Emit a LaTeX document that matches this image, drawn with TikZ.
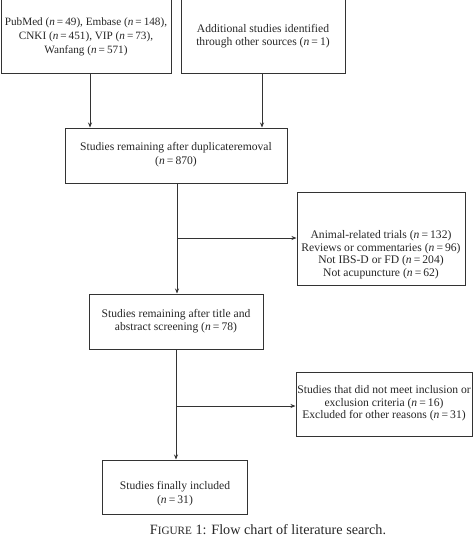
\documentclass[tikz,border=0pt]{standalone}
\usepackage{fontspec}
\setmainfont{Liberation Serif}
\usetikzlibrary{arrows.meta}
\newcommand{\nv}[1]{\textit{n}\hspace{0.18em}=\hspace{0.18em}#1}
\begin{document}
\begin{tikzpicture}[x=1pt,y=-1pt,
  box/.style={draw=black!80, line width=1pt, inner sep=0pt},
  txt/.style={align=center, inner sep=0pt, font=\fontsize{11.6}{13.5}\selectfont, text=black!85},
  flow/.style={draw=black!80, line width=1pt, -{Stealth[length=5pt,width=4pt]}}]
\useasboundingbox (0,0) rectangle (474,539);
% boxes
\node[box, minimum width=170pt, minimum height=75pt] (b1) at (86,36) {};
\node[box, minimum width=164pt, minimum height=80pt] (b2) at (263,33) {};
\node[box, minimum width=222pt, minimum height=55pt] (b3) at (176,155.5) {};
\node[box, minimum width=168pt, minimum height=93pt] (b5) at (381,238.5) {};
\node[box, minimum width=174pt, minimum height=55pt] (b4) at (176,321.5) {};
\node[box, minimum width=176pt, minimum height=64pt] (b6) at (384,404) {};
\node[box, minimum width=145pt, minimum height=54pt] (b7) at (174.5,487) {};
% texts
\node[txt, font=\fontsize{11.2}{14}\selectfont] (t1) at (86,37) {PubMed (\nv{49}), Embase (\nv{148}),\\CNKI (\nv{451}), VIP (\nv{73}),\\Wanfang (\nv{571})};
\node[txt] (t2) at (263,36) {Additional studies identified\\through other sources (\nv{1})};
\node[txt] (t3) at (176,154.5) {Studies remaining after duplicateremoval\\(\nv{870})};
\node[txt, font=\fontsize{11.6}{12.5}\selectfont] (t5) at (381,254.5) {Animal-related trials (\nv{132})\\Reviews or commentaries (\nv{96})\\Not IBS-D or FD (\nv{204})\\Not acupuncture (\nv{62})};
\node[txt] (t4) at (176,321) {Studies remaining after title and\\abstract screening (\nv{78})};
\node[txt, font=\fontsize{11.6}{12.7}\selectfont] (t6) at (384,403.5) {Studies that did not meet inclusion or\\exclusion criteria (\nv{16})\\Excluded for other reasons (\nv{31})};
\node[txt] (t7) at (175,493.5) {Studies finally included\\(\nv{31})};
\node[txt, font=\fontsize{14.2}{16}\selectfont] (cap) at (268,530) {F{\fontsize{11.2}{13}\selectfont IGURE} 1: Flow chart of literature search.};
% connectors
\draw[flow] (b1.south -| 90,0) -- (b3.north -| 90,0);
\draw[flow] (b2.south -| 262,0) -- (b3.north -| 262,0);
\draw[flow] (b3.south -| 177,0) -- (b4.north -| 177,0);
\coordinate (j1) at (177,238);
\draw[flow] (j1) -- (b5.west |- j1);
\draw[flow] (b4.south -| 176,0) -- (b7.north -| 176,0);
\coordinate (j2) at (176,406);
\draw[flow] (j2) -- (b6.west |- j2);
\end{tikzpicture}
\end{document}
